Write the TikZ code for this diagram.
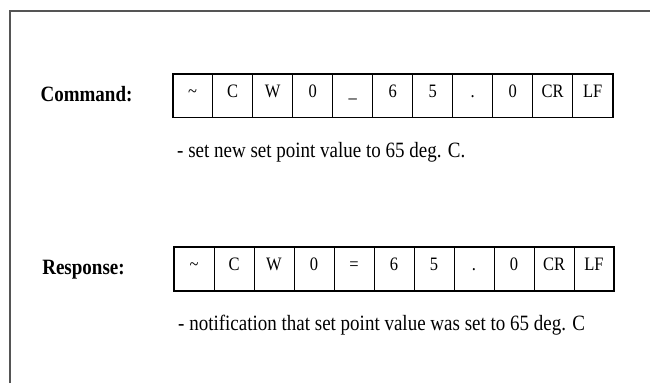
\documentclass[tikz,border=0pt]{standalone}
\usepackage{fontspec}
\usepackage{graphicx}
\setmainfont{Liberation Serif}
\usetikzlibrary{positioning}
\definecolor{framegray}{RGB}{85,85,85}
% text in the drawing is a little taller than wide
\newcommand{\tall}[1]{\scalebox{1}[1.15]{#1}}
\tikzset{
    cell/.style = {rectangle, draw, line width=0.9pt, minimum width=40pt, minimum height=43.5pt, inner sep=0pt, outer sep=0pt, text height=10pt, text depth=6.8pt, font=\fontsize{16.5}{16.5}\selectfont},
    rowtitle/.style = {anchor=base, inner sep=0pt, font=\fontsize{19}{19}\selectfont\bfseries},
    note/.style = {anchor=base west, inner sep=0pt, font=\fontsize{19}{19}\selectfont},
    outline/.style = {draw, line width=1.8pt}
}

\begin{document}
\begin{tikzpicture}[x=1pt, y=-1pt]
        \useasboundingbox (0,0) rectangle (650,383);
        % Frame
        \draw [framegray, line width=2pt] (10,383) |- (650,11);

        % Command row
        \node [rowtitle] (cmdtitle) at (86.5,101.7) {\tall{Command:}};
        \node [cell] (cmd1) at (192.7,95.7) {\tall{\textasciitilde}};
        \foreach \t [count=\i from 2] in {C, W, 0, \_, 6, 5, ., 0, CR, LF} {
            \pgfmathtruncatemacro\prev{\i-1}
            \node [cell, right=0pt of cmd\prev] (cmd\i) {\tall{\t}};
        }
        \path [outline] (cmd1.north west) rectangle (cmd11.south east);
        \node [note] (cmdnote) at (177,157.3) {\tall{- set new set point value to 65 deg. C.}};

        % Response row
        \node [rowtitle] (resptitle) at (83.5,274) {\tall{Response:}};
        \node [cell] (resp1) at (194,269) {\tall{\textasciitilde}};
        \foreach \t [count=\i from 2] in {C, W, 0, =, 6, 5, ., 0, CR, LF} {
            \pgfmathtruncatemacro\prev{\i-1}
            \node [cell, right=0pt of resp\prev] (resp\i) {\tall{\t}};
        }
        \path [outline] (resp1.north west) rectangle (resp11.south east);
        \node [note] (respnote) at (178,330) {\tall{- notification that set point value was set to 65 deg. C}};

    \end{tikzpicture}
\end{document}
